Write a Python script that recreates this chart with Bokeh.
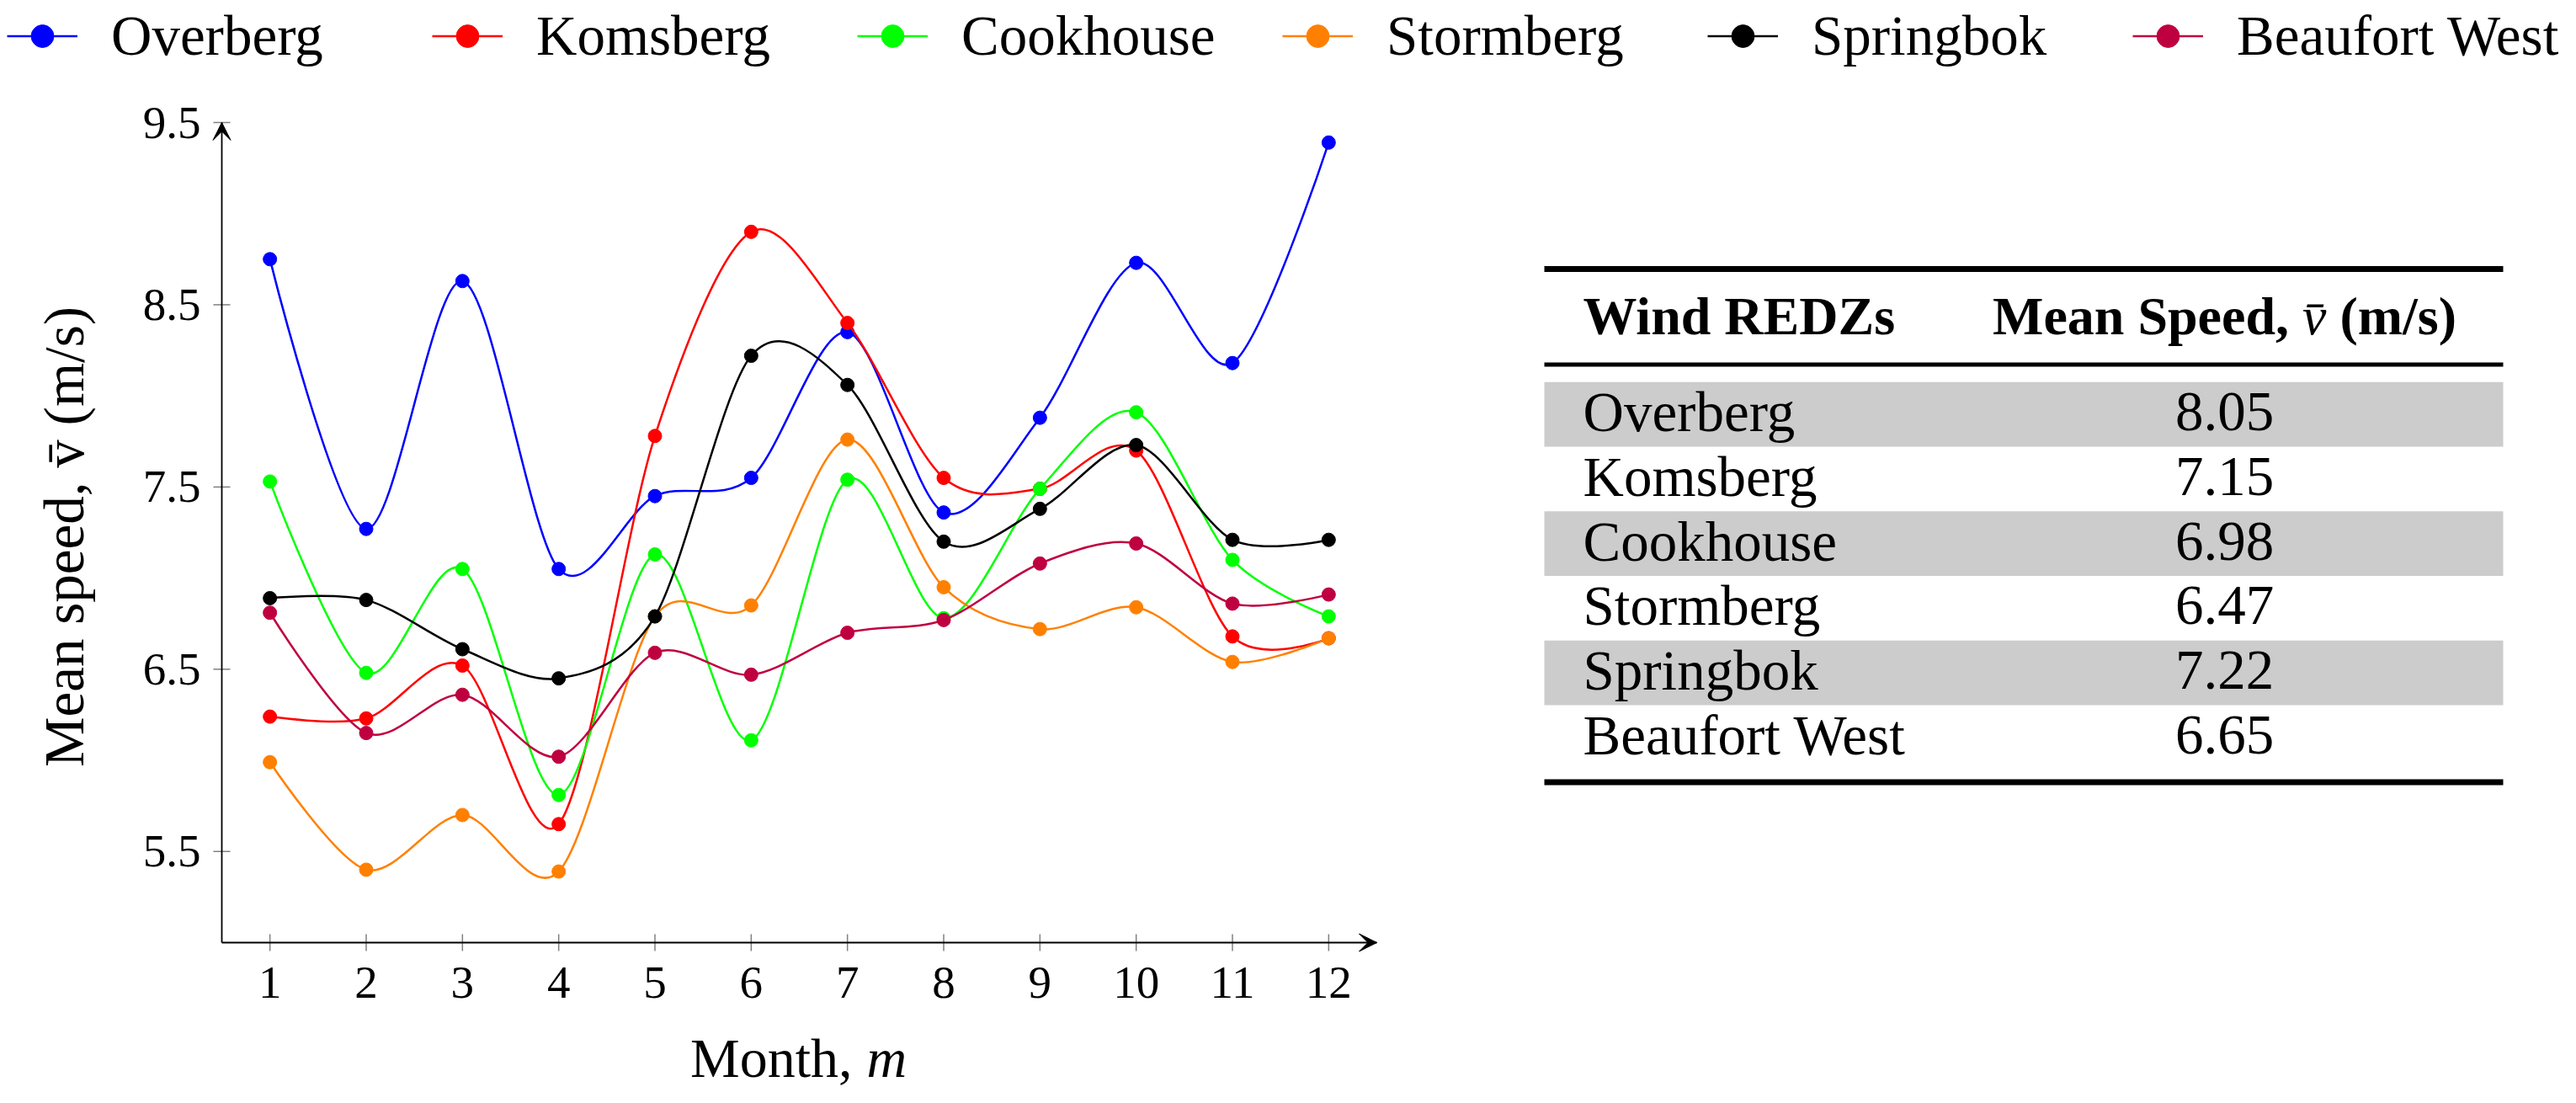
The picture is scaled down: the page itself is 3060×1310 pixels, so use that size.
import numpy as np
from bokeh.plotting import figure
from bokeh.layouts import column, row
from bokeh.models import (Range1d, FixedTicker, Legend, LegendItem, Arrow, VeeHead,
                          ColumnDataSource)
from bokeh.embed import file_html
from bokeh.resources import INLINE
from bokeh.core.properties import value

# ---------------- data ----------------
months = list(range(1, 13))
names = ["Overberg", "Komsberg", "Cookhouse", "Stormberg", "Springbok", "Beaufort West"]
overberg = [8.75, 7.27, 8.63, 7.05, 7.45, 7.55, 8.35, 7.36, 7.88, 8.73, 8.18, 9.39]
komsberg = [6.24, 6.23, 6.52, 5.65, 7.78, 8.90, 8.40, 7.55, 7.49, 7.70, 6.68, 6.67]
cookhouse = [7.53, 6.48, 7.05, 5.81, 7.13, 6.11, 7.54, 6.78, 7.49, 7.91, 7.10, 6.79]
stormberg = [5.99, 5.40, 5.70, 5.39, 6.79, 6.85, 7.76, 6.95, 6.72, 6.84, 6.54, 6.67]
springbok = [6.89, 6.88, 6.61, 6.45, 6.79, 8.22, 8.06, 7.20, 7.38, 7.73, 7.21, 7.21]
beaufort_west = [6.81, 6.15, 6.36, 6.02, 6.59, 6.47, 6.70, 6.77, 7.08, 7.19, 6.86, 6.91]
series = [overberg, komsberg, cookhouse, stormberg, springbok, beaufort_west]
colors = ["#0000ff", "#ff0000", "#00ff00", "#ff8000", "#000000", "#bf0040"]
mean_speed = [8.05, 7.15, 6.98, 6.47, 7.22, 6.65]
y_ticks = [5.5, 6.5, 7.5, 8.5, 9.5]
X_MIN, X_MAX, Y_MIN, Y_MAX = 0.5, 12.5, 5.0, 9.5

FONT = "Liberation Serif"


def smooth_segments(xs, ys, k=0.1526):
    """Cubic Bezier segments through the points (TikZ 'smooth' style)."""
    xs = np.asarray(xs, float)
    ys = np.asarray(ys, float)
    n = len(xs)
    tx = np.zeros(n)
    ty = np.zeros(n)
    tx[1:-1] = xs[2:] - xs[:-2]
    ty[1:-1] = ys[2:] - ys[:-2]
    return dict(x0=xs[:-1], y0=ys[:-1], x1=xs[1:], y1=ys[1:],
                cx0=xs[:-1] + k * tx[:-1], cy0=ys[:-1] + k * ty[:-1],
                cx1=xs[1:] - k * tx[1:], cy1=ys[1:] - k * ty[1:])


def bare(fig):
    fig.outline_line_color = None
    fig.xgrid.visible = False
    fig.ygrid.visible = False


# ---------------- layout constants (pixels) ----------------
TOTAL_W, TOTAL_H = 3044, 1294
LEG_H = 86
CH_W = 1800
XL_H = 76                      # strip under the chart holding the x-axis title
FR_LEFT, FR_RIGHT, FR_TOP, FR_BOT = 248, 1638, 140, 1134
X0_PX, X1_PX = 263, 1635       # pixel of x=0.5 and x=12.5
Y0_PX, Y1_PX = 1119, 145       # pixel of y=5.0 and y=9.5
xs_ = (X1_PX - X0_PX) / (X_MAX - X_MIN)
ys_ = (Y0_PX - Y1_PX) / (Y_MAX - Y_MIN)

x_range = Range1d(X_MIN - (X0_PX - FR_LEFT) / xs_, X_MAX + (FR_RIGHT - X1_PX) / xs_)
y_range = Range1d(Y_MIN - (FR_BOT - Y0_PX) / ys_, Y_MAX + (Y1_PX - FR_TOP) / ys_)

P_H = TOTAL_H - LEG_H - XL_H
BORDER_T = FR_TOP - LEG_H
P_BORDER_B = LEG_H + P_H - FR_BOT

# ---------------- chart ----------------
p = figure(width=CH_W, height=P_H, x_range=x_range, y_range=y_range,
           output_backend="svg", toolbar_location=None,
           min_border_left=FR_LEFT, min_border_right=CH_W - FR_RIGHT,
           min_border_top=BORDER_T, min_border_bottom=P_BORDER_B)
bare(p)
p.background_fill_color = "white"

p.xaxis.ticker = FixedTicker(ticks=months)
p.yaxis.ticker = FixedTicker(ticks=y_ticks)
for ax in (p.xaxis, p.yaxis):
    ax.axis_line_color = None
    ax.major_tick_line_color = None
    ax.major_tick_in = 0
    ax.major_tick_out = 0
    ax.minor_tick_line_color = None
    ax.major_label_text_font = FONT
    ax.major_label_text_font_size = "55px"
    ax.major_label_text_color = "black"
    ax.axis_label_text_font = FONT
    ax.axis_label_text_font_size = "67px"
    ax.axis_label_text_font_style = "normal"
    ax.axis_label_text_color = "black"
p.xaxis.major_label_standoff = 14
p.yaxis.major_label_standoff = 10
p.yaxis.axis_label = "Mean speed, v\u0304 (m/s)"
p.yaxis.axis_label_standoff = 54

# tick marks crossing the axis lines (gray), then the axis lines
tdx, tdy = 10 / xs_, 10 / ys_
p.segment(x0=months, x1=months, y0=Y_MIN - tdy, y1=Y_MIN + tdy, line_color="#808080", line_width=1.5)
p.segment(x0=X_MIN - tdx, x1=X_MIN + tdx, y0=y_ticks, y1=y_ticks, line_color="#808080", line_width=1.5)
p.segment(x0=[X_MIN, X_MIN], y0=[Y_MIN, Y_MIN], x1=[X_MAX, X_MIN], y1=[Y_MIN, Y_MAX],
          line_color="black", line_width=1.8)

for vals, c in zip(series, colors):
    src = ColumnDataSource(smooth_segments(months, vals))
    p.bezier(x0="x0", y0="y0", x1="x1", y1="y1", cx0="cx0", cy0="cy0", cx1="cx1", cy1="cy1",
             source=src, line_color=c, line_width=2.5)
    p.scatter(months, vals, size=16, fill_color=c, line_color=c)

p.add_layout(Arrow(end=VeeHead(size=21, fill_color="black", line_color="black", line_width=1),
                   x_start=X_MAX - 0.2, y_start=Y_MIN, x_end=X_MAX, y_end=Y_MIN, line_alpha=0))
p.add_layout(Arrow(end=VeeHead(size=21, fill_color="black", line_color="black", line_width=1),
                   x_start=X_MIN, y_start=Y_MAX - 0.1, x_end=X_MIN, y_end=Y_MAX, line_alpha=0))

# ---------------- x-axis title strip ----------------
xl = figure(width=CH_W, height=XL_H, x_range=x_range, y_range=Range1d(XL_H, 0),
            output_backend="svg", toolbar_location=None, min_border=0,
            min_border_left=FR_LEFT, min_border_right=CH_W - FR_RIGHT,
            x_axis_location=None, y_axis_location=None)
bare(xl)
x_mid = (months[0] + months[-1]) / 2
xl.text(x=[x_mid], y=[38], text=["Month,"], text_font=value(FONT), text_font_size=value("66px"),
        text_align="right", text_baseline="alphabetic", x_offset=63, text_color="black")
xl.text(x=[x_mid], y=[38], text=["m"], text_font=value(FONT), text_font_size=value("66px"),
        text_font_style="italic", text_align="left", text_baseline="alphabetic", x_offset=80,
        text_color="black")

# ---------------- legend strip ----------------
lf = figure(width=TOTAL_W, height=LEG_H, x_range=Range1d(0, 1), y_range=Range1d(-10, -9),
            output_backend="svg", toolbar_location=None, min_border=0,
            x_axis_location=None, y_axis_location=None)
bare(lf)
items = []
for name, vals, c in zip(names, series, colors):
    r1 = lf.line(months, vals, line_color=c, line_width=2.5)
    r2 = lf.scatter(months, vals, size=27, fill_color=c, line_color=c)
    items.append(LegendItem(label=name, renderers=[r1, r2]))
leg = Legend(items=items, orientation="horizontal", location=(8, 5.5),
             glyph_width=84, glyph_height=67, label_height=67, label_width=380,
             label_standoff=40, spacing=1, padding=4, margin=0, border_line_color=None,
             background_fill_alpha=0, label_text_font=FONT, label_text_font_size="67px",
             label_text_color="black")
lf.add_layout(leg)

# ---------------- table ----------------
ROW0, ROW_H = 491.5, 76.75
rows = list(range(len(names)))
T_H = TOTAL_H - LEG_H
tf = figure(width=TOTAL_W - CH_W, height=T_H, x_range=Range1d(0, TOTAL_W - CH_W),
            y_range=Range1d((FR_BOT - ROW0) / ROW_H, (FR_TOP - ROW0) / ROW_H),
            output_backend="svg", toolbar_location=None, min_border=0,
            min_border_top=BORDER_T, min_border_bottom=LEG_H + T_H - FR_BOT,
            x_axis_location=None, y_axis_location=None)
bare(tf)
T_LEFT, T_RIGHT, COL1, COL2 = 34, 1173, 80, 842
tf.hbar(y=rows[::2], left=T_LEFT, right=T_RIGHT, height=1.0, fill_color="#cccccc", line_color=None)
tf.segment(x0=[T_LEFT] * 2, x1=[T_RIGHT] * 2, y0=[-2.248, 5.694], y1=[-2.248, 5.694],
           line_color="black", line_width=7)
tf.segment(x0=[T_LEFT], x1=[T_RIGHT], y0=[-0.769], y1=[-0.769], line_color="black", line_width=5)

HDR_FS = 64
HDR_Y = -1.518
tf.text(x=[COL1], y=[HDR_Y], text=["Wind REDZs"], text_font=value(FONT),
        text_font_size=value("%dpx" % HDR_FS), text_font_style="bold", text_align="left",
        text_baseline="alphabetic", text_color="black")
# "Mean Speed, v̄ (m/s)" with an italic v̄, centred on the second column
w1, w_sp, w_v, w3 = 5.5 * HDR_FS, 0.25 * HDR_FS, 0.444 * HDR_FS, 2.166 * HDR_FS
start = -(w1 + w_sp + w_v + w_sp + w3) / 2
tf.text(x=[COL2], y=[HDR_Y], text=["Mean Speed,"], text_font=value(FONT),
        text_font_size=value("%dpx" % HDR_FS), text_font_style="bold", text_align="left",
        text_baseline="alphabetic", x_offset=start, text_color="black")
tf.text(x=[COL2], y=[HDR_Y], text=["v\u0304"], text_font=value(FONT),
        text_font_size=value("%dpx" % HDR_FS), text_font_style="italic", text_align="left",
        text_baseline="alphabetic", x_offset=start + w1 + w_sp, text_color="black")
tf.text(x=[COL2], y=[HDR_Y], text=["(m/s)"], text_font=value(FONT),
        text_font_size=value("%dpx" % HDR_FS), text_font_style="bold", text_align="left",
        text_baseline="alphabetic", x_offset=start + w1 + w_sp + w_v + w_sp, text_color="black")

tf.text(x=COL1, y=rows, text=names, text_font=value(FONT), text_font_size=value("67px"),
        text_align="left", text_baseline="alphabetic", y_offset=-3, text_color="black")
tf.text(x=COL2, y=rows, text=["%.2f" % v for v in mean_speed], text_font=value(FONT),
        text_font_size=value("67px"), text_align="center", text_baseline="alphabetic",
        y_offset=-3, text_color="black")

layout = column(lf, row(column(p, xl), tf))
open("out.html", "w").write(file_html(layout, INLINE))
